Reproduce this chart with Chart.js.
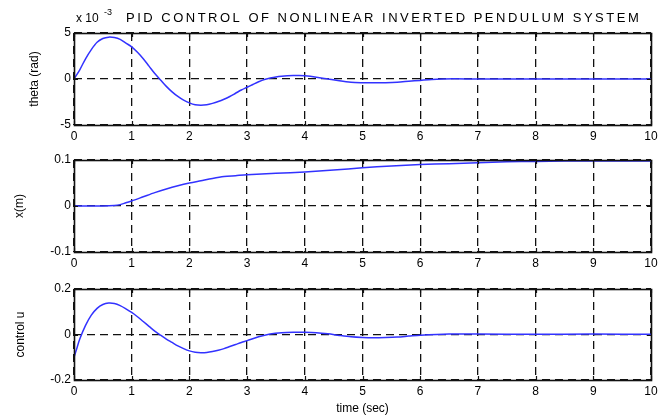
<!DOCTYPE html>
<html>
<head>
<meta charset="utf-8">
<script src="https://cdn.jsdelivr.net/npm/chart.js@4/dist/chart.umd.min.js"></script>
<style>
  body { margin: 0; background: #fff; width: 670px; height: 420px; position: relative; overflow: hidden; }
  .panel { position: absolute; left: 0; width: 670px; }
</style>
</head>
<body>
<div class="panel" style="top:0;height:143px"><canvas id="thetaChart"></canvas></div>
<div class="panel" style="top:143px;height:127px"><canvas id="posChart"></canvas></div>
<div class="panel" style="top:270px;height:150px"><canvas id="ctrlChart"></canvas></div>
<script>
// pendulum angle, in units of 1e-3 rad
let thetaTime = [0, 0.1, 0.2, 0.3, 0.4, 0.5, 0.6, 0.7, 0.8, 0.9, 1.0, 1.1, 1.2, 1.3, 1.4, 1.5, 1.6, 1.7, 1.8, 1.9,
    2.0, 2.1, 2.2, 2.3, 2.4, 2.5, 2.6, 2.7, 2.8, 2.9, 3.0, 3.1, 3.2, 3.3, 3.4, 3.5, 3.6, 3.7, 3.8, 3.9,
    4.0, 4.2, 4.4, 4.6, 4.8, 5.0, 5.2, 5.4, 5.6, 5.8, 6.0, 6.2, 6.4, 6.6, 7, 8, 9, 10];
let thetaMilli = [0, 1.0, 2.2, 3.2, 4.0, 4.4, 4.55, 4.5, 4.3, 3.9, 3.5, 2.9, 2.2, 1.4, 0.6, -0.1, -0.8, -1.4, -1.9, -2.3,
    -2.6, -2.8, -2.85, -2.8, -2.65, -2.45, -2.2, -1.9, -1.55, -1.2, -0.9, -0.6, -0.3, -0.05, 0.1, 0.22, 0.3, 0.35, 0.38, 0.38,
    0.35, 0.2, 0.0, -0.2, -0.35, -0.4, -0.42, -0.4, -0.35, -0.25, -0.15, -0.05, 0.0, 0.02, 0, 0, 0, 0];

// cart position (m)
let posTime = [0, 0.5, 0.7, 0.8, 0.9, 1.0, 1.2, 1.4, 1.6, 1.8, 2.0, 2.2, 2.4, 2.6, 2.8, 3.0, 3.5, 4.0, 4.5, 5.0, 5.5, 6.0, 6.5, 7.0, 7.5, 8, 9, 10];
let posVals = [0, 0, 0.001, 0.003, 0.007, 0.011, 0.020, 0.029, 0.037, 0.044, 0.050, 0.055, 0.060, 0.064, 0.066, 0.068,
    0.071, 0.074, 0.078, 0.083, 0.087, 0.090, 0.092, 0.094, 0.096, 0.097, 0.098, 0.098];

// control signal u
let ctrlTime = [0, 0.05, 0.1, 0.2, 0.3, 0.4, 0.5, 0.6, 0.7, 0.8, 0.9, 1.0, 1.1, 1.2, 1.3, 1.4, 1.5, 1.6, 1.7, 1.8, 1.9,
    2.0, 2.1, 2.2, 2.3, 2.4, 2.5, 2.6, 2.7, 2.8, 2.9, 3.0, 3.2, 3.4, 3.6, 3.8, 4.0, 4.2, 4.4, 4.6, 4.8,
    5.0, 5.2, 5.4, 5.6, 5.8, 6.0, 6.5, 7, 8, 9, 10];
let ctrlVals = [-0.10, -0.06, -0.02, 0.04, 0.085, 0.115, 0.132, 0.138, 0.136, 0.127, 0.113, 0.097, 0.078, 0.057, 0.036, 0.015,
    -0.003, -0.02, -0.035, -0.05, -0.062, -0.072, -0.078, -0.080, -0.079, -0.075, -0.069, -0.062, -0.053, -0.044, -0.035,
    -0.027, -0.010, 0.002, 0.008, 0.010, 0.010, 0.008, 0.003, -0.004, -0.010, -0.013, -0.014, -0.013, -0.011, -0.007,
    -0.003, 0.002, 0.002, 0.001, 0.002, 0.001];

const FONT = "'Liberation Sans', Arial, sans-serif";

// box round the axes with inward ticks, like matlab
const framePlugin = {
    id: 'frame',
    afterDraw(chart) {
        const { ctx, chartArea: a, scales } = chart;
        ctx.save();
        ctx.strokeStyle = '#111';
        ctx.lineWidth = 1.6;
        ctx.setLineDash([]);
        ctx.strokeRect(a.left + 0.5, a.top + 0.5, a.right - a.left, a.bottom - a.top);
        ctx.lineWidth = 1.2;
        ctx.beginPath();
        scales.x.ticks.forEach(t => {
            let px = Math.round(scales.x.getPixelForValue(t.value)) + 0.5;
            ctx.moveTo(px, a.bottom); ctx.lineTo(px, a.bottom - 4);
            ctx.moveTo(px, a.top); ctx.lineTo(px, a.top + 4);
        });
        scales.y.ticks.forEach(t => {
            let py = Math.round(scales.y.getPixelForValue(t.value)) + 0.5;
            ctx.moveTo(a.left, py); ctx.lineTo(a.left + 4, py);
            ctx.moveTo(a.right, py); ctx.lineTo(a.right - 4, py);
        });
        ctx.stroke();
        ctx.restore();
    }
};

const titlePlugin = {
    id: 'figTitle',
    afterDraw(chart) {
        const ctx = chart.ctx;
        ctx.save();
        ctx.fillStyle = '#000';
        ctx.textBaseline = 'alphabetic';
        ctx.font = '12px ' + FONT;
        ctx.fillText('x 10', 76, 22);
        ctx.font = '9px ' + FONT;
        ctx.fillText('-3', 104, 15);
        ctx.font = '13px ' + FONT;
        ctx.letterSpacing = '2.5px';
        ctx.fillText('PID CONTROL OF NONLINEAR INVERTED PENDULUM SYSTEM', 126, 22);
        ctx.restore();
    }
};

function makePanel(id, times, vals, yMin, yMax, yStep, yLabel, opts) {
    let points = times.map((t, i) => ({ x: t, y: vals[i] }));
    let plugins = [framePlugin];
    if (opts.title) plugins.push(titlePlugin);

    return new Chart(document.getElementById(id), {
        type: 'line',
        data: {
            datasets: [{
                data: points,
                borderColor: 'rgb(50,50,255)',
                borderWidth: 1.5,
                pointRadius: 0,
                tension: 0.3,
                fill: false
            }]
        },
        options: {
            responsive: true,
            maintainAspectRatio: false,
            animation: false,
            layout: { padding: { top: opts.padTop, left: 0, right: 19, bottom: 0 } },
            plugins: { legend: { display: false }, tooltip: { enabled: false } },
            scales: {
                x: {
                    type: 'linear',
                    min: 0,
                    max: 10,
                    ticks: { stepSize: 1, color: '#000', padding: 4, font: { family: FONT, size: 12 }, maxRotation: 0 },
                    grid: { color: '#111', lineWidth: 1.3, drawTicks: false },
                    border: { display: false, dash: [8, 5] },
                    title: {
                        display: !!opts.xTitle,
                        text: opts.xTitle || '',
                        color: '#000',
                        font: { family: FONT, size: 12 },
                        padding: { top: 0, bottom: 4 }
                    },
                    afterFit(scale) { scale.height = opts.xHeight; }
                },
                y: {
                    min: yMin,
                    max: yMax,
                    ticks: { stepSize: yStep, color: '#000', padding: 3, font: { family: FONT, size: 12 } },
                    grid: { color: '#111', lineWidth: 1.3, drawTicks: false },
                    border: { display: false, dash: [8, 5] },
                    title: {
                        display: true,
                        text: yLabel,
                        color: '#000',
                        font: { family: FONT, size: 12 },
                        padding: { top: opts.yTitlePad, bottom: 0 }
                    },
                    afterFit(scale) { scale.width = 74; }
                }
            }
        },
        plugins: plugins
    });
}

makePanel('thetaChart', thetaTime, thetaMilli, -5, 5, 5, 'theta (rad)',
    { padTop: 33, xHeight: 18, yTitlePad: 27, title: true });
makePanel('posChart', posTime, posVals, -0.1, 0.1, 0.1, 'x(m)',
    { padTop: 17, xHeight: 18, yTitlePad: 12 });
makePanel('ctrlChart', ctrlTime, ctrlVals, -0.2, 0.2, 0.2, 'control u',
    { padTop: 19, xHeight: 40, yTitlePad: 13, xTitle: 'time (sec)' });
</script>
</body>
</html>
